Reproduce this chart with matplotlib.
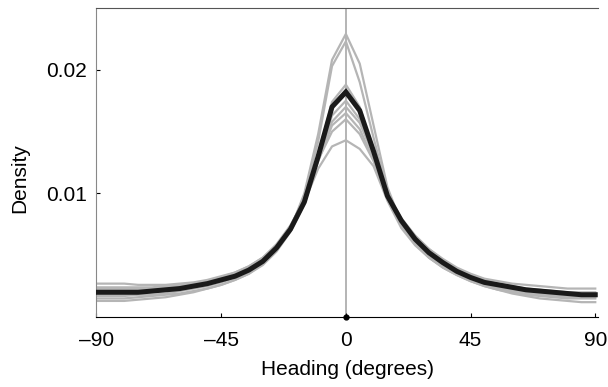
import matplotlib
matplotlib.use("Agg")
import matplotlib.pyplot as plt

plt.rcParams["font.family"] = ["Liberation Sans", "DejaVu Sans"]

# heading bins (degrees)
heading = list(range(-90, 95, 5))

# individual densities (grey)
g1 = [.0015, .0015, .0015, .0016, .0017, .0018, .0019, .0021, .0023, .0026, .0030, .0035, .0043, .0054, .0071, .0100, .0148, .0208, .0229,
      .0205, .0155, .0105, .0076, .0059, .0048, .0040, .0034, .0029, .0025, .0022, .0020, .0018, .0017, .0016, .0015, .0015, .0015]
g2 = [.0017, .0017, .0017, .0018, .0018, .0019, .0021, .0023, .0025, .0028, .0032, .0037, .0044, .0055, .0072, .0098, .0142, .0203, .0223,
      .0190, .0145, .0102, .0077, .0061, .0050, .0042, .0035, .0030, .0026, .0023, .0021, .0019, .0018, .0017, .0016, .0016, .0016]
g3 = [.0027, .0027, .0027, .0026, .0026, .0026, .0027, .0028, .0030, .0033, .0036, .0041, .0048, .0058, .0073, .0094, .0131, .0174, .0188,
      .0170, .0133, .0098, .0079, .0065, .0055, .0047, .0040, .0035, .0031, .0029, .0027, .0026, .0025, .0024, .0023, .0023, .0023]
g4 = [.0022, .0022, .0022, .0022, .0023, .0024, .0025, .0026, .0028, .0031, .0034, .0039, .0046, .0057, .0072, .0093, .0129, .0171, .0184,
      .0169, .0135, .0099, .0079, .0064, .0053, .0045, .0038, .0033, .0029, .0026, .0024, .0022, .0021, .0020, .0019, .0019, .0019]
g5 = [.0013, .0013, .0013, .0014, .0015, .0016, .0018, .0020, .0023, .0026, .0030, .0035, .0042, .0053, .0069, .0091, .0127, .0163, .0175,
      .0160, .0130, .0095, .0074, .0059, .0048, .0040, .0034, .0029, .0025, .0022, .0019, .0017, .0015, .0014, .0013, .0012, .0012]
g6 = [.0024, .0024, .0024, .0024, .0024, .0025, .0026, .0027, .0029, .0032, .0036, .0041, .0048, .0059, .0074, .0095, .0128, .0158, .0170,
      .0157, .0131, .0100, .0080, .0066, .0055, .0046, .0039, .0034, .0030, .0027, .0025, .0023, .0022, .0021, .0020, .0020, .0020]
g7 = [.0019, .0019, .0019, .0019, .0020, .0021, .0022, .0024, .0026, .0029, .0033, .0038, .0045, .0056, .0072, .0094, .0126, .0155, .0165,
      .0152, .0127, .0097, .0077, .0062, .0051, .0043, .0036, .0031, .0027, .0024, .0022, .0020, .0019, .0018, .0017, .0017, .0017]
g8 = [.0021, .0021, .0021, .0021, .0022, .0023, .0024, .0025, .0027, .0030, .0034, .0039, .0047, .0058, .0074, .0095, .0127, .0150, .0160,
      .0148, .0126, .0096, .0076, .0061, .0050, .0042, .0036, .0031, .0027, .0025, .0023, .0021, .0020, .0019, .0018, .0018, .0018]
g9 = [.0023, .0023, .0023, .0023, .0023, .0024, .0025, .0026, .0028, .0031, .0035, .0040, .0047, .0057, .0072, .0093, .0120, .0138, .0143,
      .0136, .0122, .0094, .0072, .0058, .0048, .0041, .0035, .0031, .0028, .0025, .0023, .0022, .0021, .0020, .0019, .0019, .0019]
individual = [g1, g2, g3, g4, g5, g6, g7, g8, g9]

# mean density (black)
mean_density = [.0020, .0020, .0020, .0020, .0021, .0022, .0023, .0025, .0027, .0030, .0033, .0038, .0045, .0056, .0071, .0093, .0130, .0170, .0182,
                .0167, .0134, .0098, .0078, .0063, .0052, .0044, .0037, .0032, .0028, .0026, .0024, .0022, .0021, .0020, .0019, .0018, .0018]

x_ticks = [-90, -45, 0, 45, 90]
x_tick_labels = ["\u201390", "\u201345", "0", "45", "90"]
y_ticks = [0.01, 0.02]
y_tick_labels = ["0.01", "0.02"]

fig = plt.figure(figsize=(6.08, 3.87), dpi=100)
ax = fig.add_axes([0.1587, 0.1809, 0.8249, 0.7984])

ax.axvline(0, color="#a8a8a8", lw=1.2, zorder=1)

for g in individual:
    ax.plot(heading, g, color="#b5b5b5", lw=1.6, zorder=2)

ax.plot(heading, mean_density, color="#1a1a1a", lw=3.6, zorder=3, solid_joinstyle="miter")
ax.plot([0], [0], marker="o", ms=3.5, color="black", zorder=5, clip_on=False)

ax.set_xlim(-90, 91)
ax.set_ylim(0, 0.025)
ax.set_xticks(x_ticks)
ax.set_xticklabels(x_tick_labels)
ax.set_yticks(y_ticks)
ax.set_yticklabels(y_tick_labels)
ax.tick_params(direction="in", length=3, width=0.8, labelsize=15)
ax.tick_params(axis="x", pad=10)
ax.tick_params(axis="y", pad=7)

ax.spines["right"].set_visible(False)
ax.spines["left"].set_color("#888888")
ax.spines["top"].set_color("#555555")
ax.spines["bottom"].set_color("black")

ax.set_xlabel("Heading (degrees)", fontsize=15)
ax.set_ylabel("Density", fontsize=15)
ax.yaxis.set_label_coords(-0.135, 0.45)
ax.xaxis.set_label_coords(0.5, -0.14)

fig.savefig("out.png", dpi=100)
